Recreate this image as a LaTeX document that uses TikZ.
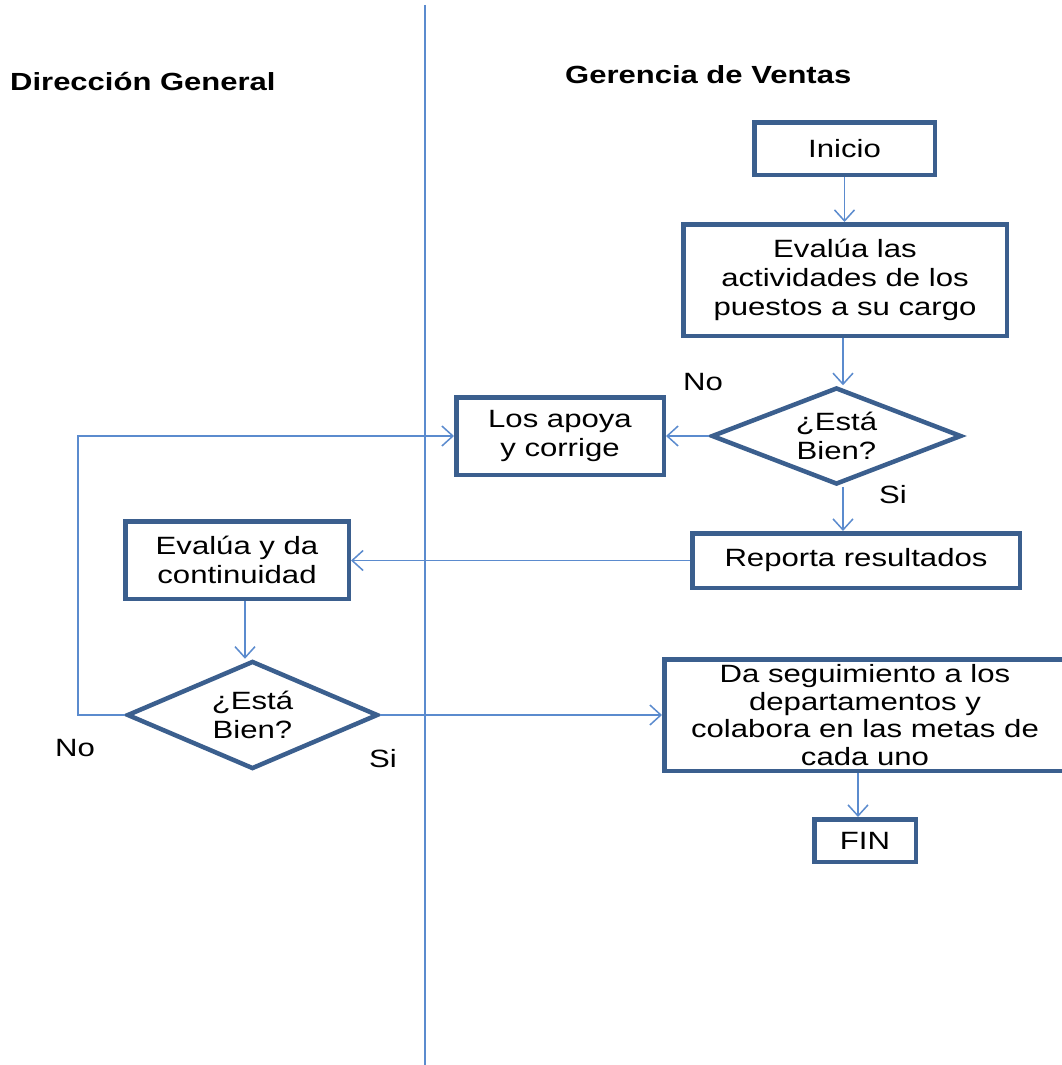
\documentclass[tikz,border=0pt]{standalone}
\usepackage{fontspec}
\setmainfont{Liberation Sans}[FakeStretch=1.245]
\newfontfamily\headfont{Liberation Sans}[FakeStretch=1.25]
\usetikzlibrary{arrows.meta,shapes.geometric}
\definecolor{boxline}{HTML}{3B5F8E}
\definecolor{flow}{HTML}{5B8BCE}
\begin{document}
\begin{tikzpicture}[x=1pt,y=-1pt,
  bodytext/.style={font=\fontsize{25pt}{29pt}\selectfont},
  headtext/.style={font=\headfont\bfseries\fontsize{24.8pt}{28pt}\selectfont},
  proc/.style={draw=boxline,line width=4.5pt,fill=white,inner sep=0pt,
    align=center,bodytext},
  decision/.style={diamond,aspect=2.5,draw=boxline,line width=4.5pt,
    fill=white,inner sep=0pt,align=center,bodytext},
  arr/.style={draw=flow,line width=1.5pt,
    -{Straight Barb[length=11pt,width=20pt,line width=1.5pt]}},
  tag/.style={bodytext,inner sep=0pt}]
\clip (0,0) rectangle (1062,1065);
\fill[white] (0,0) rectangle (1062,1065);

% swimlane divider
\coordinate (laneTop) at (425,5);
\coordinate (laneBot) at (425,1070);
\draw[flow,line width=2.5pt] (laneTop) -- (laneBot);

% lane titles
\node[headtext,anchor=west,inner sep=0pt] (laneA) at (10,82) {Dirección General};
\node[headtext,anchor=west,inner sep=0pt] (laneB) at (565,75) {Gerencia de Ventas};

% process steps
\node[proc,minimum width=180.5,minimum height=52.5] (inicio) at (844.5,148.5) {Inicio};
\node[proc,minimum width=323.5,minimum height=111.5] (evalua) at (845,280)
  {Evalúa las\\actividades de los\\puestos a su cargo};
\node[decision,minimum width=250,minimum height=97] (d1) at (836.5,436) {¿Está\\Bien?};
\node[proc,minimum width=207.5,minimum height=77.5] (apoya) at (560,436)
  {Los apoya\\y corrige};
\node[proc,minimum width=327.5,minimum height=54.5] (reporta) at (856,560.5)
  {Reporta resultados};
\node[proc,minimum width=223.5,minimum height=77.5] (ev2) at (237,560)
  {Evalúa y da\\continuidad};
\node[decision,minimum width=251,minimum height=108] (d2) at (252.5,715) {¿Está\\Bien?};
\node[proc,minimum width=401.5,minimum height=111.5,font=\fontsize{25pt}{27.7pt}\selectfont]
  (seg) at (865,715)
  {Da seguimiento a los\\departamentos y\\colabora en las metas de\\cada uno};
\node[proc,minimum width=101.5,minimum height=42.5] (fin) at (865,840.5) {FIN};

% branch labels
\node[tag] (no1) at (703,382) {No};
\node[tag] (si1) at (893,495) {Si};
\node[tag] (no2) at (75,748) {No};
\node[tag] (si2) at (383,759) {Si};

% connectors
\coordinate (loop) at (78,436);
\draw[arr] (inicio.south) -- (inicio.south |- evalua.north);
\draw[arr] ([xshift=-2]evalua.south) -- ([xshift=-2]evalua.south |- d1.north);
\draw[arr] (d1.west) -- (apoya.east);
\draw[arr] ([xshift=-2]evalua.south |- d1.south) -- ([xshift=-2]evalua.south |- reporta.north);
\draw[arr] (reporta.west) -- (reporta.west -| ev2.east);
\draw[arr] ([xshift=8]ev2.south) -- ([xshift=8]ev2.south |- d2.north);
\draw[arr] (d2.west) -| (loop) -- (apoya.west);
\draw[arr] (d2.east) -- (seg.west);
\draw[arr] ([xshift=-7]seg.south) -- ([xshift=-7]fin.north);
\end{tikzpicture}
\end{document}
